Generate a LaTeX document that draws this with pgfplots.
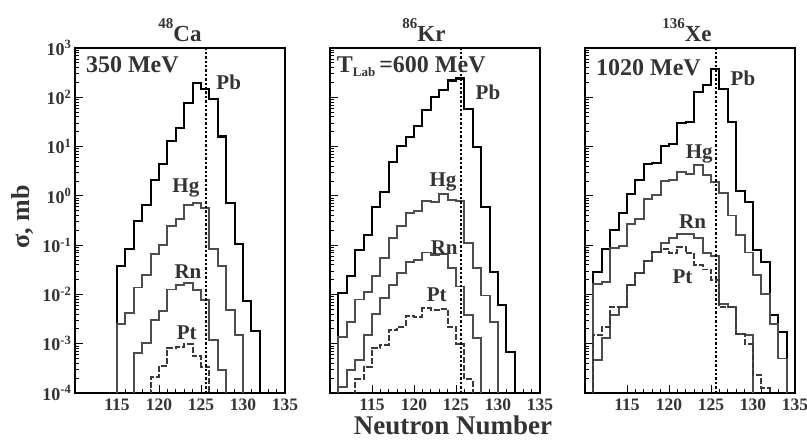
\documentclass[border=0pt]{standalone}
\usepackage{pgfplots}
\pgfplotsset{compat=1.18}
\usepackage{fontspec}
\setmainfont{Liberation Serif}
\definecolor{txt}{HTML}{333333}
\definecolor{gline}{HTML}{4D4D4D}
\definecolor{dline}{HTML}{3A3A3A}

\pgfplotsset{
  mypanel/.style={
    anchor=south west,
    scale only axis, width=210pt, height=345pt,
    xmin=110, xmax=135, ymin=1e-4, ymax=1e3,
    axis line style={black, line width=1.3pt},
    tick align=inside, xtick pos=bottom, ytick pos=left,
    xtick={115,120,125,130,135}, xticklabels={115,120,125,130,135},
    minor x tick num=4,
    ytick={1e-4,1e-3,1e-2,1e-1,1,1e1,1e2,1e3},
    major tick length=8pt, minor tick length=4pt,
    every tick/.append style={black, line width=0.8pt},
    xticklabel style={font=\fontsize{17.5}{17.5}\selectfont\bfseries, text=txt, yshift=-2pt},
    yticklabel style={font=\fontsize{18}{18}\selectfont\bfseries, text=txt},
  },
  pb/.style={const plot, black, line width=2.1pt},
  hg/.style={const plot, gline, line width=1.9pt},
  pt/.style={const plot, dline, line width=1.9pt, dash pattern=on 6pt off 2pt},
  n126/.style={black, line width=2pt, dash pattern=on 2.4pt off 2pt},
}
\tikzset{lab/.style={font=\fontsize{21}{21}\selectfont\bfseries, text=txt}}

\begin{document}
\begin{tikzpicture}[x=1pt,y=1pt]
\useasboundingbox (0pt,0pt) rectangle (807pt,441pt);

% ---- panel 1: 48Ca, 350 MeV ----
\begin{axis}[ymode=log, mypanel, at={(75pt,48pt)},
  yticklabels={10\textsuperscript{-4},10\textsuperscript{-3},10\textsuperscript{-2},10\textsuperscript{-1},10\textsuperscript{0},10\textsuperscript{1},10\textsuperscript{2},10\textsuperscript{3}}]
\addplot[pb] coordinates {(115,1e-6)(115,0.038)(116,0.085)(117,0.31)(118,0.66)(119,2.1)(120,4.4)(121,13)(122,24)(123,77)(124,195)(125,150)(126,94)(127,16)(128,0.72)(129,0.107)(130,0.0073)(131,0.0018)(132,1e-6)};
\addplot[hg] coordinates {(115,1e-6)(115,0.0025)(116,0.0042)(117,0.0138)(118,0.0245)(119,0.066)(120,0.1)(121,0.245)(122,0.34)(123,0.66)(124,0.72)(125,0.575)(126,0.085)(127,0.038)(128,0.0048)(129,0.0015)(130,1e-6)};
\addplot[hg] coordinates {(117,1e-6)(117,0.00066)(118,0.00102)(119,0.003)(120,0.0047)(121,0.0126)(122,0.0155)(123,0.0174)(124,0.0123)(125,0.0078)(126,0.00117)(127,0.000295)(128,1e-6)};
\addplot[pt] coordinates {(119,1e-6)(119,0.000214)(120,0.000355)(121,0.00081)(122,0.00087)(123,0.00098)(124,0.00056)(125,0.00034)(126,1e-6)};
\addplot[n126] coordinates {(125.55,1e-4)(125.55,1e3)};
\node[lab, anchor=west] at (axis cs:110.9,450) {\fontsize{24}{24}\selectfont 350 MeV};
\node[lab] at (axis cs:128.3,200) {Pb};
\node[lab] at (axis cs:123.2,1.45) {Hg};
\node[lab] at (axis cs:123.45,0.029) {Rn};
\node[lab] at (axis cs:123.3,0.00166) {Pt};
\end{axis}

% ---- panel 2: 86Kr, 600 MeV ----
\begin{axis}[ymode=log, mypanel, at={(330pt,48pt)}, yticklabels={}]
\addplot[pb] coordinates {(111,1e-6)(111,0.0107)(112,0.0234)(113,0.079)(114,0.158)(115,0.6)(116,1.2)(117,4.9)(118,10.2)(119,15.8)(120,26)(121,55)(122,102)(123,138)(124,219)(125,240)(126,59)(127,9.8)(128,0.6)(129,0.029)(130,0.006)(131,0.00069)(132,1e-6)};
\addplot[hg] coordinates {(111,1e-6)(111,0.00135)(112,0.0028)(113,0.0079)(114,0.0112)(115,0.024)(116,0.056)(117,0.141)(118,0.24)(119,0.45)(120,0.5)(121,0.79)(122,0.74)(123,1.07)(124,0.83)(125,0.79)(126,0.112)(127,0.035)(128,0.0095)(129,0.0028)(130,1e-6)};
\addplot[hg] coordinates {(111,1e-6)(111,0.000135)(112,0.000295)(113,0.00047)(114,0.0015)(115,0.004)(116,0.0085)(117,0.0155)(118,0.027)(119,0.045)(120,0.05)(121,0.071)(122,0.063)(123,0.066)(124,0.034)(125,0.0145)(126,0.0038)(127,0.0013)(128,1e-6)};
\addplot[pt] coordinates {(113,1e-6)(113,0.00019)(114,0.00034)(115,0.00081)(116,0.00095)(117,0.0019)(118,0.0022)(119,0.0036)(120,0.0035)(121,0.0052)(122,0.0049)(123,0.0051)(124,0.0022)(125,0.001)(126,0.00019)(127,1e-6)};
\addplot[n126] coordinates {(125.55,1e-4)(125.55,1e3)};
\node[lab, anchor=west] at (axis cs:110.4,410) {\fontsize{24}{24}\selectfont T{\fontsize{13}{13}\selectfont\raisebox{-4pt}{Lab}}\,=600 MeV};
\node[lab] at (axis cs:128.8,125) {Pb};
\node[lab] at (axis cs:123.45,1.9) {Hg};
\node[lab] at (axis cs:123.6,0.087) {Rn};
\node[lab] at (axis cs:122.7,0.0098) {Pt};
\end{axis}

% ---- panel 3: 136Xe, 1020 MeV ----
\begin{axis}[ymode=log, mypanel, at={(585pt,48pt)}, yticklabels={}]
\addplot[pb] coordinates {(111,1e-6)(111,0.029)(112,0.083)(113,0.2)(114,0.45)(115,1.07)(116,2.1)(117,4.4)(118,4.6)(119,10.2)(120,11.2)(121,30)(122,32)(123,129)(124,174)(125,380)(126,145)(127,32)(128,1.26)(129,0.76)(130,0.079)(131,0.045)(132,0.0038)(133,0.0017)(134,1e-6)};
\addplot[hg] coordinates {(111,1e-6)(111,0.0166)(112,0.0178)(113,0.089)(114,0.095)(115,0.27)(116,0.34)(117,0.85)(118,1.05)(119,2.0)(120,2.1)(121,3.0)(122,2.8)(123,4.2)(124,2.6)(125,1.9)(126,1.12)(127,0.4)(128,0.16)(129,0.071)(130,0.025)(131,0.01)(132,0.0025)(133,0.0005)(134,1e-6)};
\addplot[hg] coordinates {(111,1e-6)(111,0.00047)(112,0.0013)(113,0.0038)(114,0.0056)(115,0.0155)(116,0.027)(117,0.047)(118,0.074)(119,0.112)(120,0.138)(121,0.166)(122,0.166)(123,0.138)(124,0.069)(125,0.059)(126,0.0063)(127,0.0056)(128,0.0016)(129,0.0015)(130,1e-6)};
\addplot[pt] coordinates {(111,1e-6)(111,0.0015)(112,0.0022)(113,0.0056)(114,0.0056)(115,0.0155)(116,0.027)(117,0.047)(118,0.074)(119,0.083)(120,0.069)(121,0.093)(122,0.069)(123,0.04)(124,0.032)(125,0.0195)(126,0.0056)(127,0.0056)(128,0.0016)(129,0.001)(130,0.00023)(131,0.000126)(132,1e-6)};
\addplot[n126] coordinates {(125.55,1e-4)(125.55,1e3)};
\node[lab, anchor=west] at (axis cs:110.9,400) {\fontsize{24}{24}\selectfont 1020 MeV};
\node[lab] at (axis cs:128.8,245) {Pb};
\node[lab] at (axis cs:123.6,7) {Hg};
\node[lab] at (axis cs:122.8,0.3) {Rn};
\node[lab] at (axis cs:121.6,0.023) {Pt};
\end{axis}

% ---- titles and axis labels ----
\node[font=\fontsize{23}{23}\selectfont\bfseries, text=txt] at (180pt,411pt) {{\fontsize{15}{15}\selectfont\raisebox{13pt}{48}}Ca};
\node[font=\fontsize{23}{23}\selectfont\bfseries, text=txt] at (424pt,411pt) {{\fontsize{15}{15}\selectfont\raisebox{13pt}{86}}Kr};
\node[font=\fontsize{23}{23}\selectfont\bfseries, text=txt] at (687pt,411pt) {{\fontsize{15}{15}\selectfont\raisebox{13pt}{136}}Xe};
\node[font=\fontsize{27}{27}\selectfont\bfseries, text=txt] at (453pt,16pt) {Neutron Number};
\node[font=\fontsize{26}{26}\selectfont\bfseries, text=txt, rotate=90] at (22pt,224pt) {σ, mb};
\end{tikzpicture}
\end{document}
